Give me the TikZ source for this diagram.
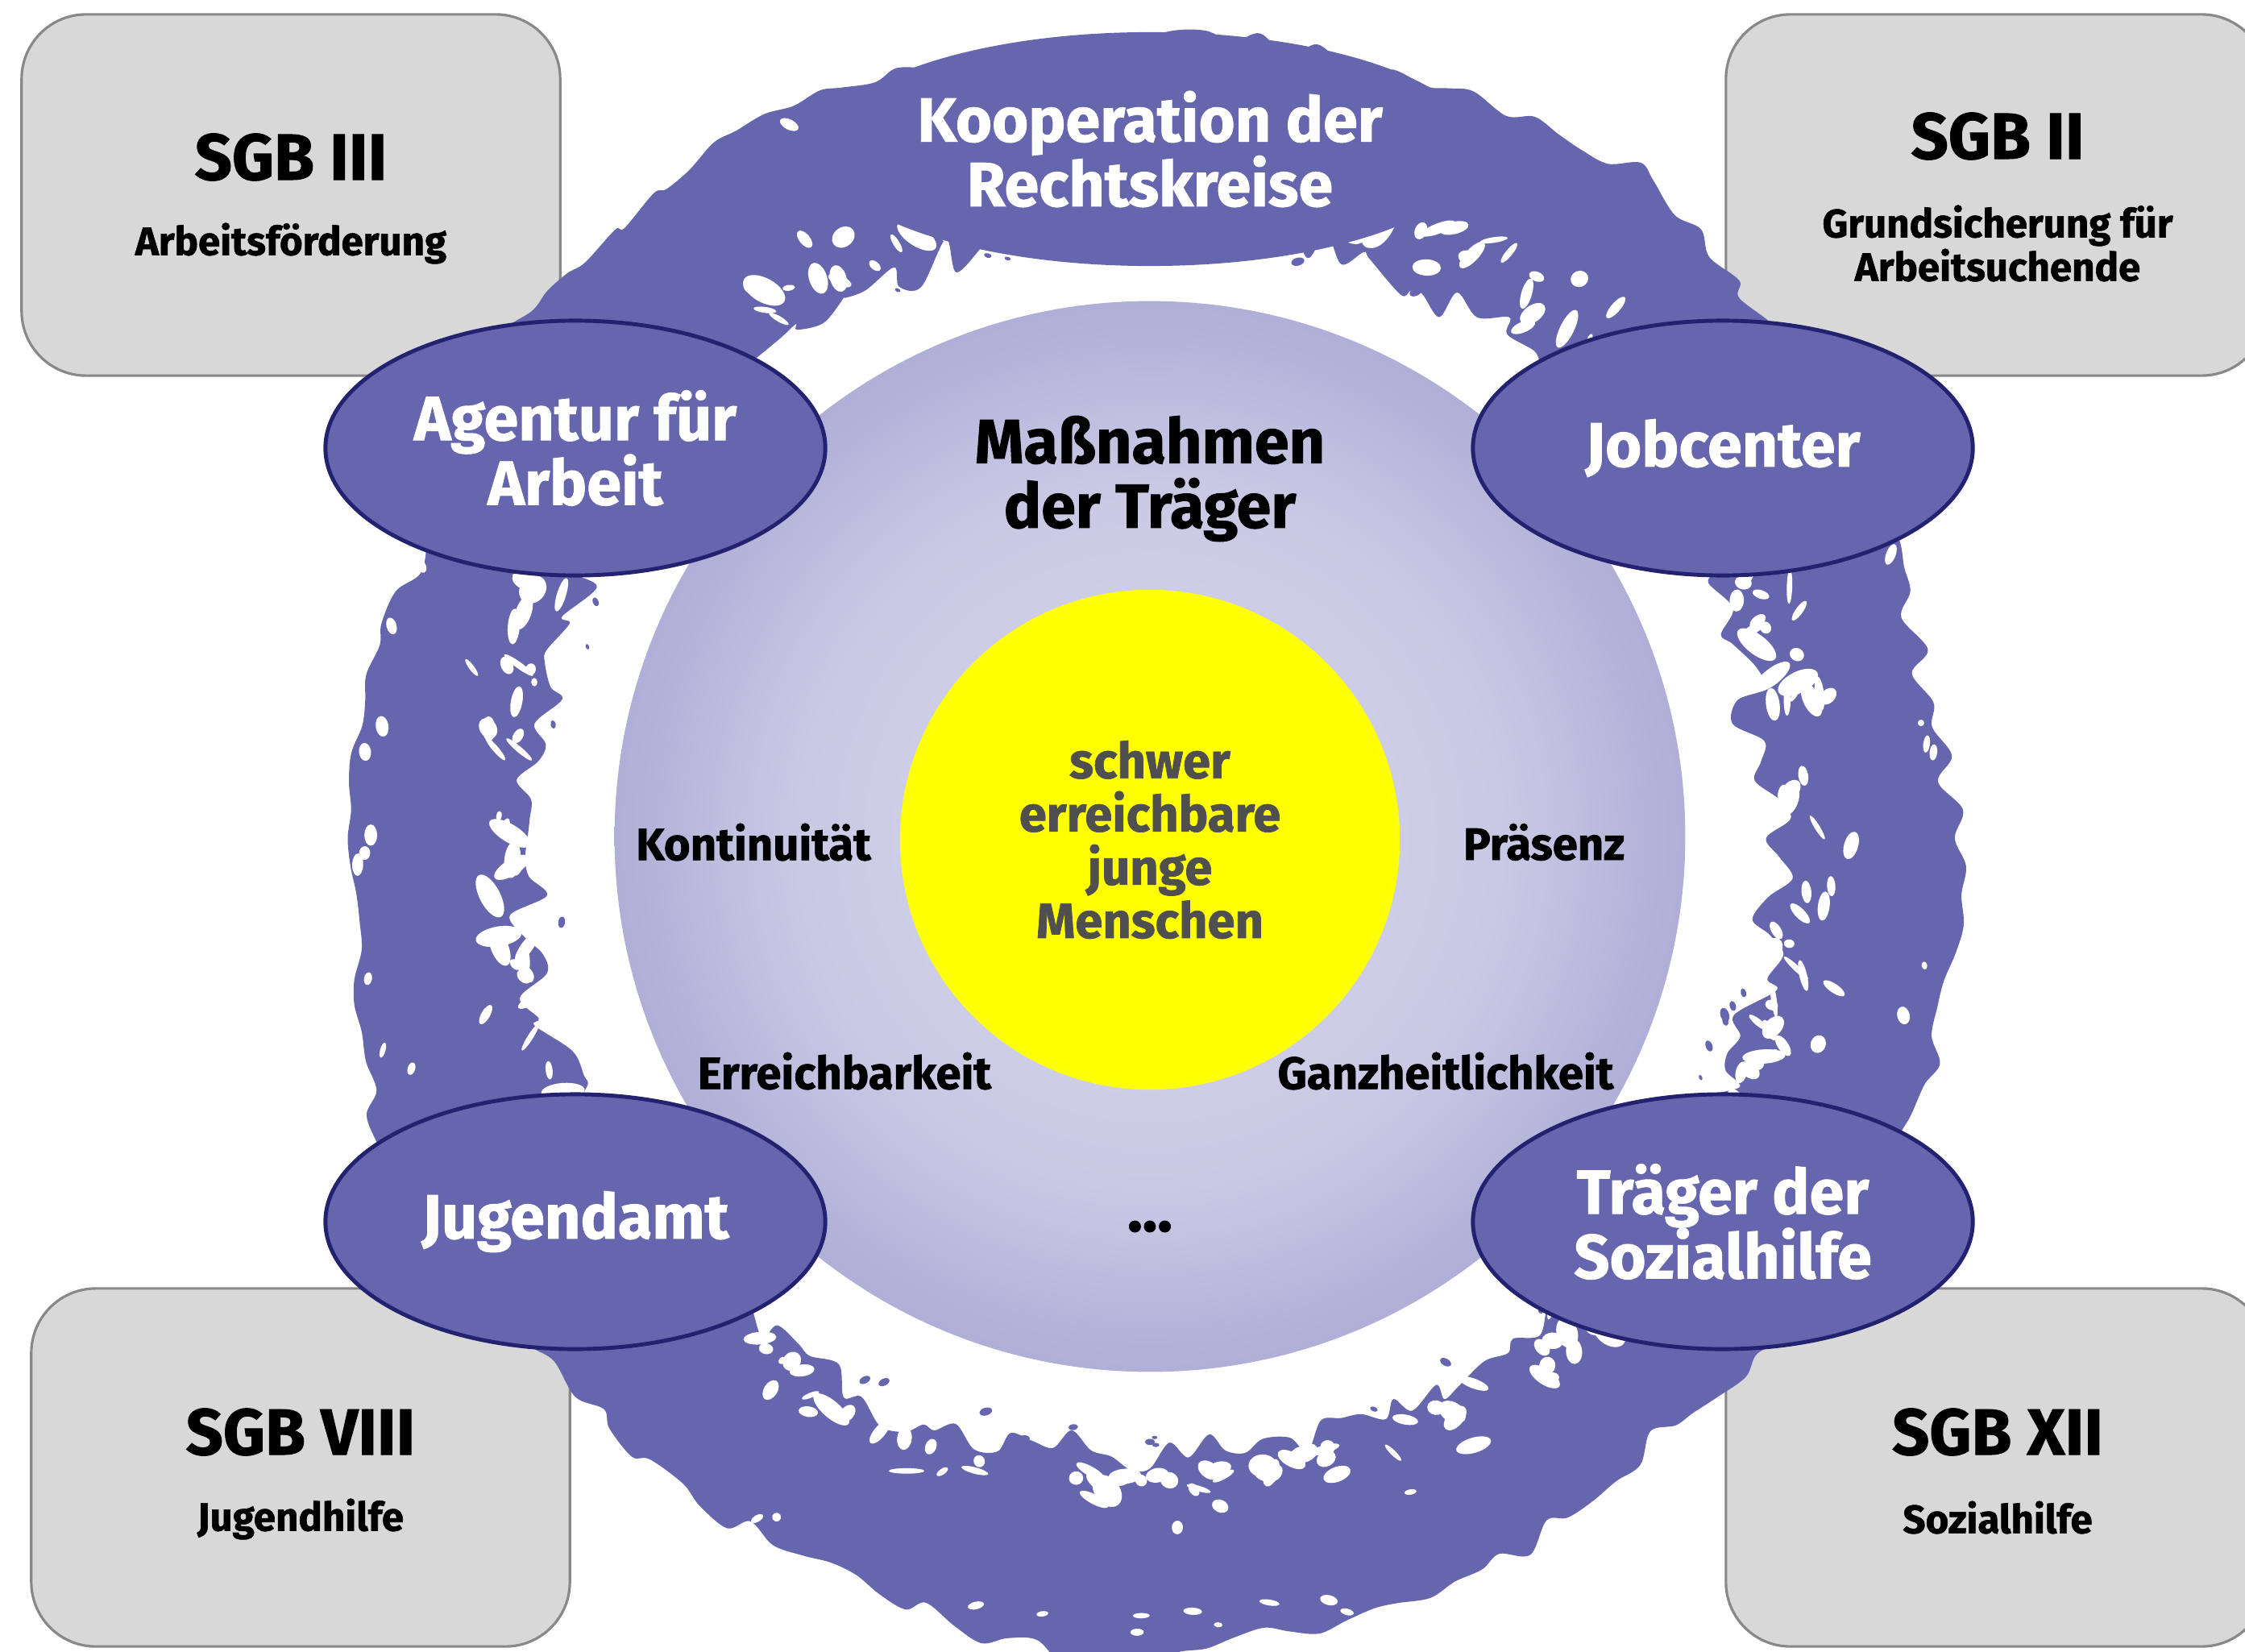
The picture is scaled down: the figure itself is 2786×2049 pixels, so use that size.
\documentclass[tikz,border=0pt]{standalone}
\usepackage{fontspec}
\setmainfont{Fira Sans}[BoldFeatures={FakeBold=1.2}]
\usetikzlibrary{shapes.geometric}
\definecolor{ringc}{HTML}{6666AF}
\definecolor{ellb}{HTML}{222270}
\definecolor{boxf}{HTML}{D8D8D8}
\definecolor{boxd}{HTML}{888888}
\definecolor{bigin}{HTML}{D6D6EC}
\definecolor{bigmid}{HTML}{C9C9E5}
\definecolor{bigout}{HTML}{8E8EC6}
\definecolor{yin}{HTML}{FFFF00}
\definecolor{yout}{HTML}{FFFF60}
\definecolor{yrim}{HTML}{FFFF8C}
\definecolor{ytext}{HTML}{4F4F4F}
\pgfdeclareradialshading{bigshade}{\pgfpoint{0bp}{0bp}}{color(0bp)=(bigin); color(16.5bp)=(bigmid); color(35.36bp)=(bigout); color(50bp)=(bigout)}
\pgfdeclareradialshading{yshade}{\pgfpoint{0bp}{0bp}}{color(0bp)=(yin); color(24bp)=(yin); color(32bp)=(yout); color(35.36bp)=(yrim); color(50bp)=(yrim)}
\newcommand{\fbig}{\fontsize{22}{22.8}\selectfont\bfseries}
\newcommand{\ftitle}{\fontsize{23}{25}\selectfont\bfseries}
\newcommand{\fsub}{\fontsize{14}{15.4}\selectfont\bfseries}
\newcommand{\flab}{\fontsize{16}{18}\selectfont\bfseries}
\newcommand{\fcore}{\fontsize{17.5}{18.8}\selectfont\bfseries}
\begin{document}
\begin{tikzpicture}[x=0.01cm,y=-0.01cm,
  greybox/.style={draw=boxd, line width=0.9pt, fill=boxf, rounded corners=8mm, rectangle, inner sep=0pt},
  boxtitle/.style={font=\ftitle, text=black, inner sep=0pt},
  boxsub/.style={font=\fsub, text=black, align=center, inner sep=0pt},
  agency/.style={ellipse, draw=ellb, line width=1.4pt, fill=ringc, minimum width=6.2cm, minimum height=3.16cm, inner sep=0pt, text=white, font=\fbig, align=center},
  lab/.style={font=\flab, text=black, inner sep=0pt}]
\useasboundingbox (0,0) rectangle (2786,2049);
\begin{scope}
\clip (0,0) rectangle (2786,2049);
% grey boxes
\node[greybox, minimum width=6.68cm, minimum height=4.48cm] (b3) at (361,242) {};
\node[greybox, minimum width=6.70cm, minimum height=4.48cm] (b2) at (2477,242) {};
\node[greybox, minimum width=6.68cm, minimum height=4.44cm] (b8) at (373,1821) {};
\node[greybox, minimum width=6.70cm, minimum height=4.44cm] (b12) at (2477,1821) {};
\node[boxtitle] (t3) at (361,195) {SGB III};
\node[boxsub] (s3) at (361,302) {Arbeitsförderung};
\node[boxtitle] (t2) at (2479,169) {SGB II};
\node[boxsub] (s2) at (2479,302) {Grundsicherung für\\Arbeitsuchende};
\node[boxtitle] (t8) at (373,1777) {SGB VIII};
\node[boxsub] (s8) at (373,1885) {Jugendhilfe};
\node[boxtitle] (t12) at (2479,1777) {SGB XII};
\node[boxsub] (s12) at (2479,1883) {Sozialhilfe};
% splatter ring
\begin{scope}[shift={(1427,1040)}]
 \pgfmathsetseed{4242}
 \fill[ringc, even odd rule]
   plot[smooth cycle, tension=0.55, samples=180, domain=0:358, variable=\t] (\t:{1000+14*sin(5*\t)+10*sin(12*\t+30)+32*rnd-16})
   plot[smooth cycle, tension=0.55, samples=200, domain=0:358.2, variable=\t] (\t:{772+10*sin(7*\t)+56*rnd-28});
 \foreach \i in {1,...,240}{
   \pgfmathsetmacro{\a}{360*rnd}
   \pgfmathsetmacro{\r}{785+110*rnd*rnd}
   \pgfmathsetmacro{\sa}{5+18*rnd}
   \pgfmathsetmacro{\sb}{3+8*rnd}
   \pgfmathsetmacro{\ro}{\a+90+90*rnd-45}
   \fill[white] (\a:\r) circle[x radius=\sa, y radius=\sb, rotate=\ro];
 }
 \foreach \i in {1,...,45}{
   \pgfmathsetmacro{\a}{360*rnd}
   \pgfmathsetmacro{\r}{790+50*rnd}
   \pgfmathsetmacro{\sa}{14+16*rnd}
   \pgfmathsetmacro{\sb}{8+8*rnd}
   \pgfmathsetmacro{\ro}{\a+180*rnd}
   \fill[white] (\a:\r) circle[x radius=\sa, y radius=\sb, rotate=\ro];
 }
 \foreach \i in {1,...,50}{
   \pgfmathsetmacro{\a}{90*int(4*rnd)+60*rnd-30}
   \pgfmathsetmacro{\r}{960+35*rnd}
   \pgfmathsetmacro{\sa}{4+10*rnd}
   \pgfmathsetmacro{\sb}{3+5*rnd}
   \pgfmathsetmacro{\ro}{\a+90}
   \fill[white] (\a:\r) circle[x radius=\sa, y radius=\sb, rotate=\ro];
 }
 \foreach \i in {1,...,40}{
   \pgfmathsetmacro{\a}{360*rnd}
   \pgfmathsetmacro{\r}{735+30*rnd}
   \pgfmathsetmacro{\sa}{3+6*rnd}
   \pgfmathsetmacro{\sb}{0.6*\sa}
   \pgfmathsetmacro{\ro}{\a+90}
   \fill[ringc] (\a:\r) circle[x radius=\sa, y radius=\sb, rotate=\ro];
 }
\end{scope}
% cooperation blob
\node[ellipse, fill=ringc, minimum width=7.4cm, minimum height=2.9cm, inner sep=0pt, text=white, font=\fbig, align=center] (koop) at (1427,185) {Kooperation der\\Rechtskreise};
% measures circle
\node[circle, minimum size=13.28cm, inner sep=0pt, shade, shading=bigshade] (mass) at (1427,1038) {};
\node[font=\fbig, align=center, inner sep=0pt] (masst) at (1427,594) {Maßnahmen\\der Träger};
% core
\node[circle, minimum size=6.2cm, inner sep=0pt, shade, shading=yshade, font=\fcore, text=ytext, align=center] (core) at (1427,1042) {schwer\\erreichbare\\junge\\Menschen};
% labels
\node[lab] (kont) at (935,1045) {Kontinuität};
\node[lab] (praes) at (1916,1045) {Präsenz};
\node[lab] (erre) at (1048,1329) {Erreichbarkeit};
\node[lab] (ganz) at (1794,1329) {Ganzheitlichkeit};
\node[font=\fontsize{22}{24}\selectfont\bfseries, inner sep=0pt] (dots) at (1427,1522) {...};
% agencies
\node[agency] (aa) at (714,556) {Agentur für\\Arbeit};
\node[agency] (jc) at (2138,556) {Jobcenter};
\node[agency] (ja) at (714,1516) {Jugendamt};
\node[agency] (ts) at (2138,1516) {Träger der\\Sozialhilfe};
\end{scope}
\end{tikzpicture}
\end{document}
